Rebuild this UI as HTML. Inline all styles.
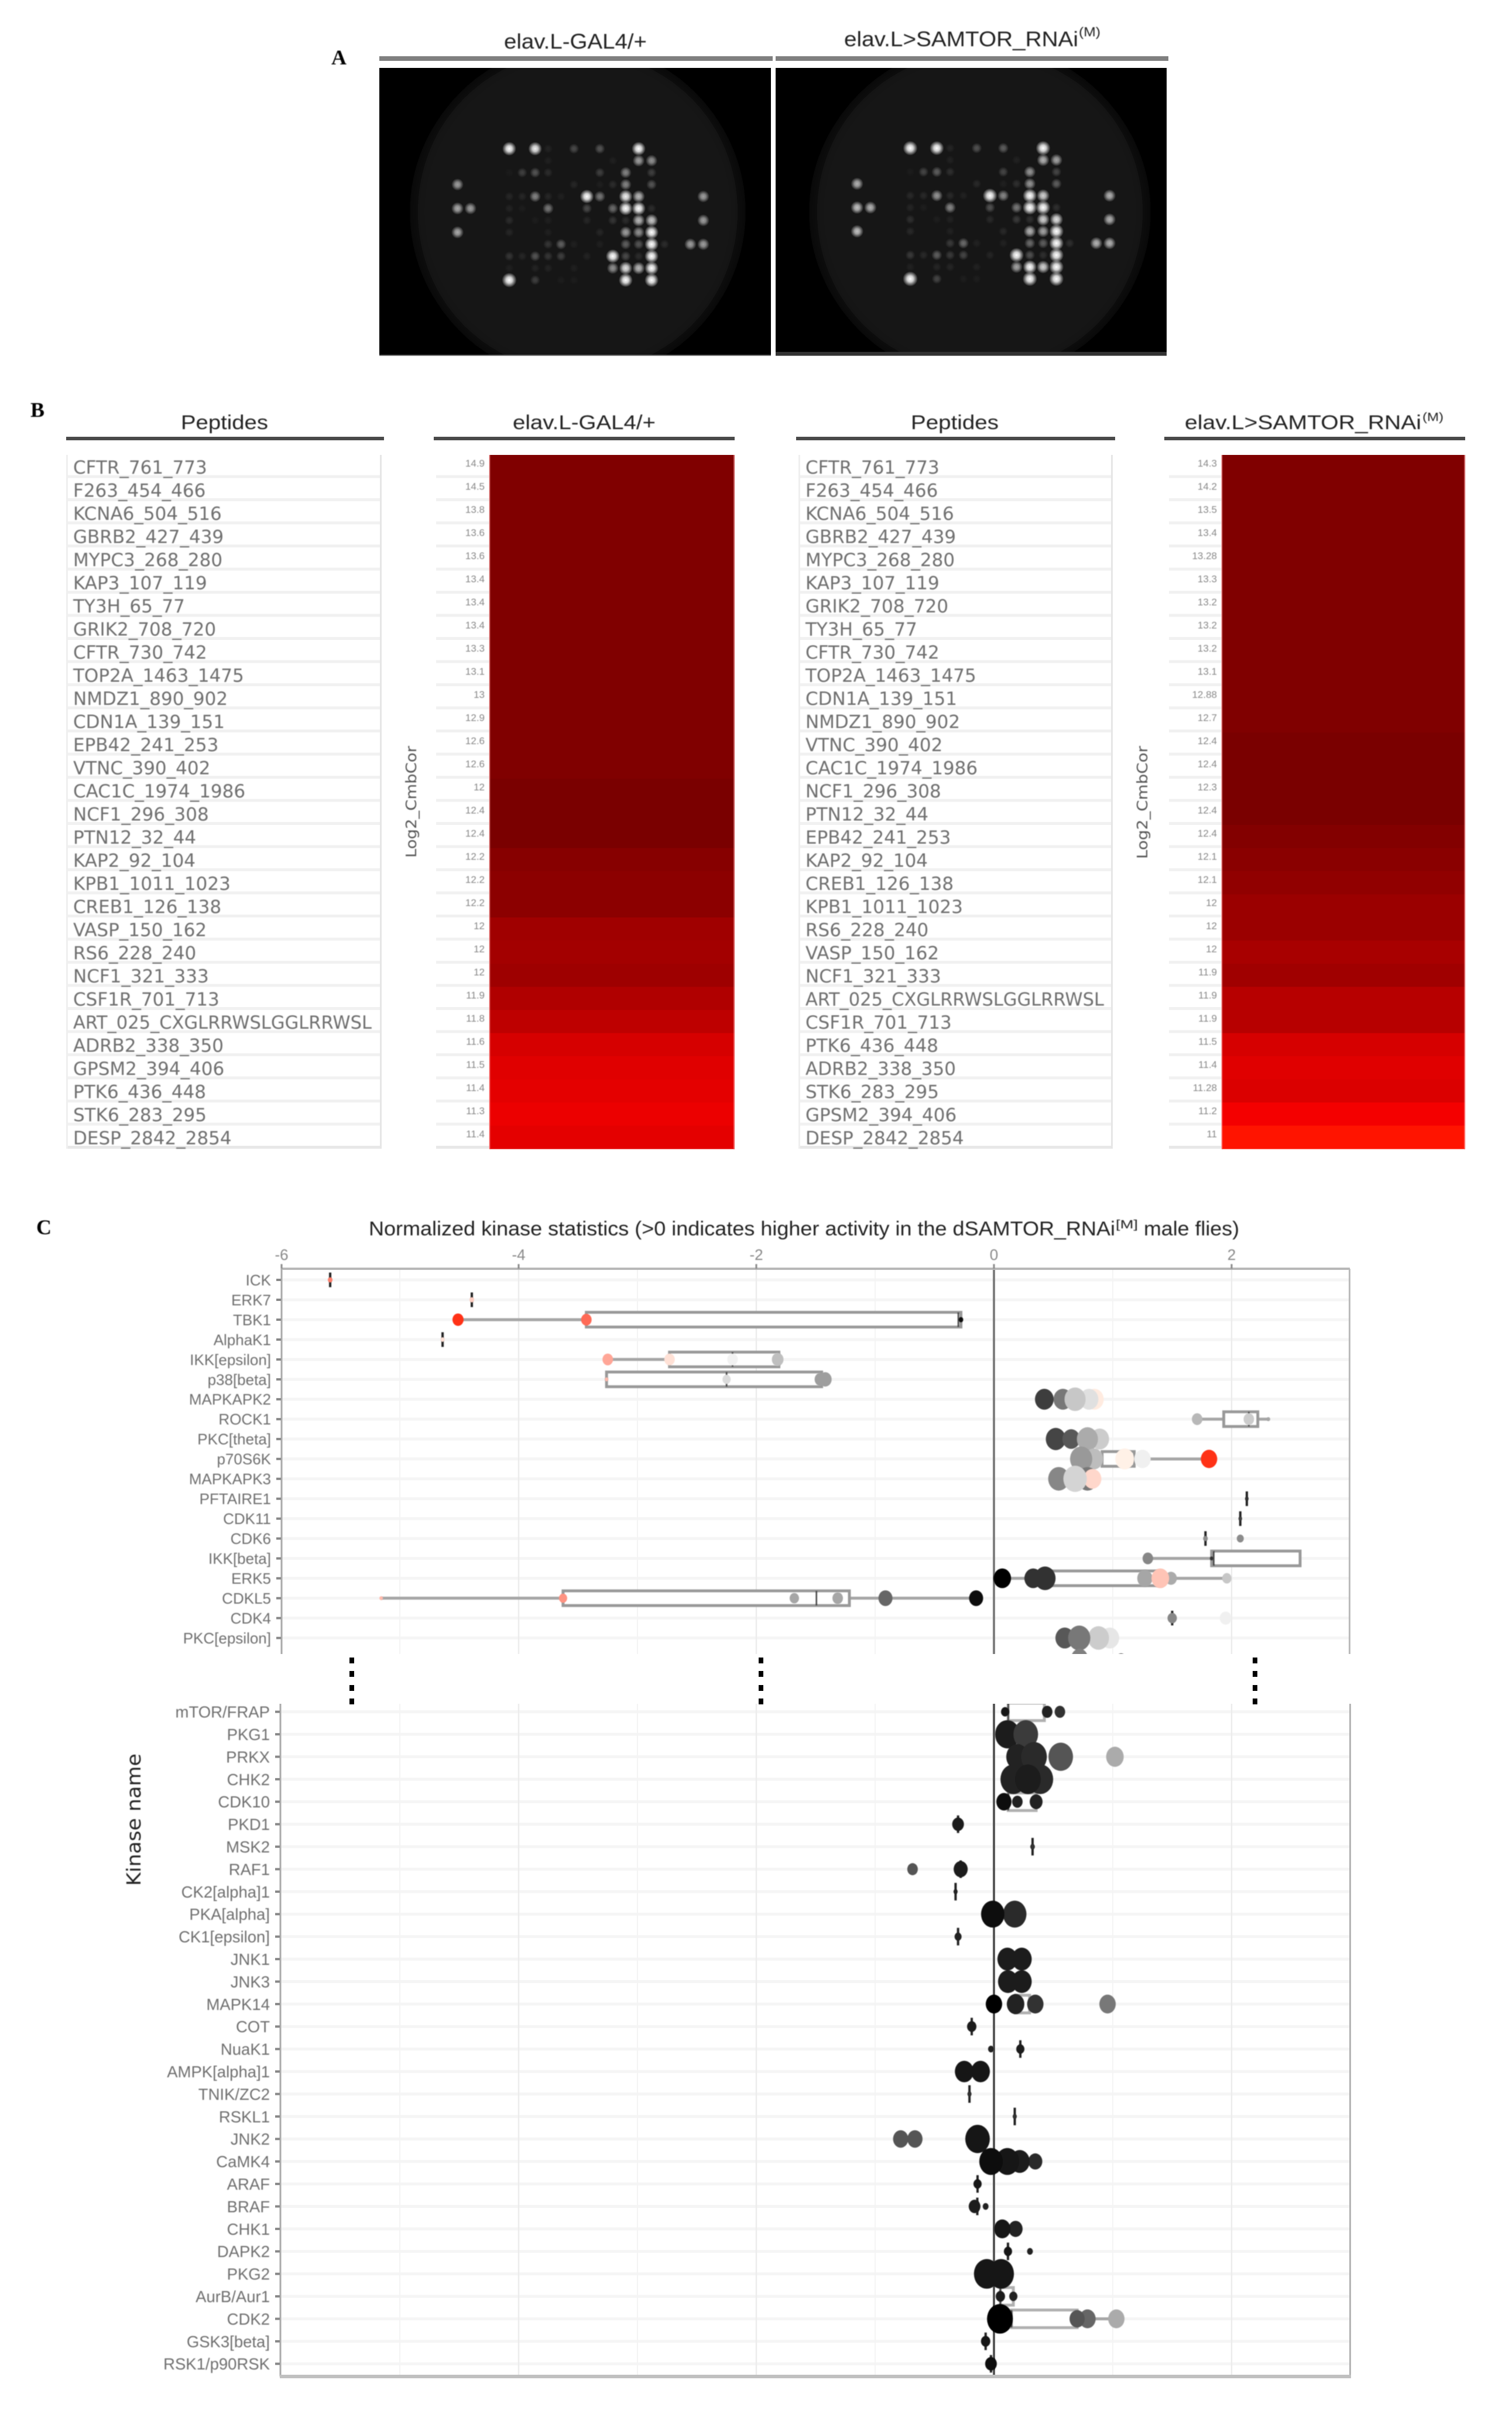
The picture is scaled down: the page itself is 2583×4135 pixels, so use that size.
<!DOCTYPE html>
<html lang="en">
<head>
<meta charset="utf-8">
<title>Kinase activity figure</title>
<style>
html,body{margin:0;padding:0;background:#fff;}
svg{display:block;}
text{font-family:"Liberation Sans",sans-serif;}
</style>
</head>
<body>
<svg id="figure" xmlns="http://www.w3.org/2000/svg" width="2583" height="4135" viewBox="0 0 2583 4135">
<defs>
<filter id="soft" x="-5%" y="-5%" width="110%" height="110%"><feGaussianBlur stdDeviation="0.9"/></filter>
<filter id="softer" x="-5%" y="-5%" width="110%" height="110%"><feGaussianBlur stdDeviation="1.3"/></filter>
<filter id="halo" x="-10%" y="-10%" width="120%" height="120%"><feGaussianBlur stdDeviation="10"/></filter>
<radialGradient id="spot"><stop offset="0" stop-color="#fff"/><stop offset="0.4" stop-color="#fff" stop-opacity="0.8"/><stop offset="1" stop-color="#fff" stop-opacity="0"/></radialGradient>
<clipPath id="clip-a-left"><rect x="648" y="116" width="669" height="492"/></clipPath>
<clipPath id="clip-a-right"><rect x="1325" y="116" width="668" height="492"/></clipPath>
<clipPath id="clip-top"><rect x="481" y="2167" width="1825" height="658"/></clipPath>
<clipPath id="clip-bottom"><rect x="479" y="2910" width="1828" height="1149"/></clipPath>
</defs>

<rect x="0" y="0" width="2583" height="4135" fill="#fff"/>

<!-- Panel letters -->
<g font-family="Liberation Serif" font-weight="bold" font-size="36" fill="#000" filter="url(#soft)">
<text x="566" y="110" style="font-family:'Liberation Serif',serif">A</text>
<text x="52" y="712" style="font-family:'Liberation Serif',serif">B</text>
<text x="62" y="2108" style="font-family:'Liberation Serif',serif">C</text>
</g>

<!-- Panel A headers -->
<g filter="url(#soft)" fill="#222" font-size="36">
<text x="861" y="83" textLength="244" lengthAdjust="spacingAndGlyphs">elav.L-GAL4/+</text>
<text x="1442" y="79" textLength="400" lengthAdjust="spacingAndGlyphs">elav.L&gt;SAMTOR_RNAi</text>
<text x="1843" y="62" textLength="37" lengthAdjust="spacingAndGlyphs" font-size="22">(M)</text>
</g>
<rect x="648" y="96" width="672" height="8" fill="#808080"/>
<rect x="1325" y="96" width="671" height="8" fill="#808080"/>

<g id="panel-a"></g>

<!-- Panel B headers -->
<g filter="url(#soft)" fill="#222" font-size="34">
<text x="309" y="733" textLength="149" lengthAdjust="spacingAndGlyphs">Peptides</text>
<text x="876" y="733" textLength="244" lengthAdjust="spacingAndGlyphs">elav.L-GAL4/+</text>
<text x="1556" y="733" textLength="150" lengthAdjust="spacingAndGlyphs">Peptides</text>
<text x="2024" y="733" textLength="404" lengthAdjust="spacingAndGlyphs">elav.L&gt;SAMTOR_RNAi</text>
<text x="2430" y="719" textLength="36" lengthAdjust="spacingAndGlyphs" font-size="20">(M)</text>
</g>
<g fill="#4a4a4a">
<rect x="113" y="746" width="543" height="6"/>
<rect x="741" y="746" width="514" height="6"/>
<rect x="1360" y="746" width="545" height="6"/>
<rect x="1989" y="746" width="514" height="6"/>
</g>
<g id="panel-b"></g>
<g filter="url(#soft)" fill="#555" font-family="DejaVu Sans">
<text transform="translate(711,1465) rotate(-90)" font-size="25" textLength="191" lengthAdjust="spacingAndGlyphs" style="font-family:'DejaVu Sans',sans-serif">Log2_CmbCor</text>
<text transform="translate(1960,1467) rotate(-90)" font-size="25" textLength="193" lengthAdjust="spacingAndGlyphs" style="font-family:'DejaVu Sans',sans-serif">Log2_CmbCor</text>
</g>

<!-- Panel C -->
<g filter="url(#soft)" fill="#222" font-size="34">
<text x="630" y="2110" textLength="1275" lengthAdjust="spacingAndGlyphs">Normalized kinase statistics (&gt;0 indicates higher activity in the dSAMTOR_RNAi</text>
<text x="1906" y="2098" textLength="38" lengthAdjust="spacingAndGlyphs" font-size="20">[M]</text>
<text x="1954" y="2110" textLength="163" lengthAdjust="spacingAndGlyphs">male flies)</text>
</g>
<g id="panel-c"></g>
<text transform="translate(240,3221) rotate(-90)" font-size="33" textLength="226" lengthAdjust="spacingAndGlyphs" fill="#222" filter="url(#soft)" style="font-family:'DejaVu Sans',sans-serif">Kinase name</text>
</svg>

<script>
// ---- Panel A: array spots by printed row (column index and brightness) ----
const spotColumns = [
  [0,2,3,5,7,10],
  [3,8,10,11],
  [0,1,2,3,7,9,11],
  [-4,5,7,8,9,11],
  [0,1,2,3,4,6,7,9,10,15],
  [-4,-3,0,1,3,6,8,9,10,11],
  [0,2,3,6,8,9,10,11,15],
  [-4,0,3,7,9,10,11],
  [3,4,5,7,9,10,11,12,14,15],
  [0,1,2,3,4,6,8,9,10,11],
  [0,2,3,5,8,9,10,11],
  [0,2,4,5,9,11]
];
const spotLevels = [
  [1,0.95,0.1,0.3,0.35,1],
  [0.08,0.08,0.65,0.6],
  [0.05,0.25,0.35,0.15,0.25,0.55,0.25],
  [0.65,0.12,0.07,0.15,0.55,0.35],
  [0.12,0.12,0.55,0.12,0.08,1,0.5,0.95,0.75,0.65],
  [0.7,0.65,0.1,0.06,0.5,0.3,0.45,1,1,0.15],
  [0.15,0.06,0.08,0.12,0.2,0.15,0.75,0.8,0.65],
  [0.7,0.12,0.08,0.12,0.65,0.6,1],
  [0.2,0.4,0.08,0.08,0.4,0.35,1,0.15,0.65,0.65],
  [0.2,0.12,0.35,0.2,0.25,0.1,1,0.3,0.15,1],
  [0.08,0.1,0.1,0.08,0.6,0.9,0.75,1],
  [1.15,0.25,0.06,0.06,1,1]
];

// ---- Panel B: peptides and heatmap values ----
const peptidesLeft = ["CFTR_761_773","F263_454_466","KCNA6_504_516","GBRB2_427_439","MYPC3_268_280","KAP3_107_119","TY3H_65_77","GRIK2_708_720","CFTR_730_742","TOP2A_1463_1475","NMDZ1_890_902","CDN1A_139_151","EPB42_241_253","VTNC_390_402","CAC1C_1974_1986","NCF1_296_308","PTN12_32_44","KAP2_92_104","KPB1_1011_1023","CREB1_126_138","VASP_150_162","RS6_228_240","NCF1_321_333","CSF1R_701_713","ART_025_CXGLRRWSLGGLRRWSL","ADRB2_338_350","GPSM2_394_406","PTK6_436_448","STK6_283_295","DESP_2842_2854"];
const peptidesRight = ["CFTR_761_773","F263_454_466","KCNA6_504_516","GBRB2_427_439","MYPC3_268_280","KAP3_107_119","GRIK2_708_720","TY3H_65_77","CFTR_730_742","TOP2A_1463_1475","CDN1A_139_151","NMDZ1_890_902","VTNC_390_402","CAC1C_1974_1986","NCF1_296_308","PTN12_32_44","EPB42_241_253","KAP2_92_104","CREB1_126_138","KPB1_1011_1023","RS6_228_240","VASP_150_162","NCF1_321_333","ART_025_CXGLRRWSLGGLRRWSL","CSF1R_701_713","PTK6_436_448","ADRB2_338_350","STK6_283_295","GPSM2_394_406","DESP_2842_2854"];
const heatValuesLeft = [14.9,14.5,13.8,13.6,13.6,13.4,13.4,13.4,13.3,13.1,13,12.9,12.6,12.6,12.5,12.4,12.4,12.25,12.2,12.2,12,11.98,12.02,11.9,11.8,11.6,11.5,11.4,11.3,11.4];
const heatLabelsLeft = ["14.9","14.5","13.8","13.6","13.6","13.4","13.4","13.4","13.3","13.1","13","12.9","12.6","12.6","12","12.4","12.4","12.2","12.2","12.2","12","12","12","11.9","11.8","11.6","11.5","11.4","11.3","11.4"];
const heatValuesRight = [14.3,14.2,13.5,13.4,13.28,13.3,13.2,13.2,13.2,13.1,12.88,12.7,12.4,12.4,12.4,12.4,12.3,12.22,12.15,12.05,12.05,11.95,12,11.85,11.85,11.6,11.5,11.55,11.2,11];
const heatLabelsRight = ["14.3","14.2","13.5","13.4","13.28","13.3","13.2","13.2","13.2","13.1","12.88","12.7","12.4","12.4","12.3","12.4","12.4","12.1","12.1","12","12","12","11.9","11.9","11.9","11.5","11.4","11.28","11.2","11"];
const heatStopValues = [11,11.2,11.4,11.5,11.6,11.8,11.9,12,12.2,12.4,12.5,12.6];
const heatStopReds = [255,244,228,224,214,190,176,160,140,122,122,128];

// ---- Panel C: kinase rows ----
const topKinases = ["ICK","ERK7","TBK1","AlphaK1","IKK[epsilon]","p38[beta]","MAPKAPK2","ROCK1","PKC[theta]","p70S6K","MAPKAPK3","PFTAIRE1","CDK11","CDK6","IKK[beta]","ERK5","CDKL5","CDK4","PKC[epsilon]"];
const bottomKinases = ["mTOR/FRAP","PKG1","PRKX","CHK2","CDK10","PKD1","MSK2","RAF1","CK2[alpha]1","PKA[alpha]","CK1[epsilon]","JNK1","JNK3","MAPK14","COT","NuaK1","AMPK[alpha]1","TNIK/ZC2","RSKL1","JNK2","CaMK4","ARAF","BRAF","CHK1","DAPK2","PKG2","AurB/Aur1","CDK2","GSK3[beta]","RSK1/p90RSK"];
const xTickValues = [-6,-4,-2,0,2];
const xGridValues = [-5,-3,-1,1];

// Box statistics by row; null means no visible box
const topBoxQ1 = [-5.586,-4.394,-3.43,-4.64,-2.73,-3.26,null,1.934,null,0.91,null,2.128,2.073,1.78,1.832,0.458,-3.626,1.5,null];
const topBoxMedian = [-5.586,-4.394,-0.3,-4.64,-2.2,-2.25,null,2.145,null,1.1,null,2.128,2.073,1.78,1.85,0.458,-1.494,1.5,null];
const topBoxQ3 = [-5.586,-4.394,-0.278,-4.64,-1.81,-1.45,null,2.22,null,1.18,null,2.128,2.073,1.78,2.576,1.41,-1.217,1.5,null];
const topWhiskerLow = [null,null,-4.51,null,-3.25,null,null,1.71,null,null,null,null,null,null,1.295,0.07,-5.157,null,null];
const topWhiskerHigh = [null,null,null,null,null,null,null,2.31,null,1.81,null,null,null,null,null,1.96,-0.15,null,null];

// Rows follow topKinases; the final entry belongs to the row cut off by the axis break
const topPointValues = [[-5.586],[-4.394],[-4.51,-3.43,-0.278],[-4.64],[-3.25,-2.73,-2.2,-1.82],[-3.26,-2.25,-1.42,-1.46],[0.845,0.8,0.58,0.424,0.683],[1.71,2.145,2.31],[0.52,0.65,0.89,0.787],[1.25,1.1,0.84,0.734,1.81],[0.545,0.787,0.83,0.683],[2.128],[2.073],[1.78,2.073],[1.295,1.832],[0.07,0.33,0.43,1.49,1.27,1.4,1.96],[-5.157,-3.626,-1.68,-1.315,-0.913,-0.15],[1.5,1.95],[0.975,0.88,0.596,0.718],[0.72,1.07]];
const topPointSizes = [[2],[2],[4.75,4.5,2],[1.75],[4.5,4.5,4.5,5],[1.5,3.5,5.5,5],[8,8,8,8,9],[4.5,4.5,1.5],[8.5,7.5,8,9],[7,8,8,9.5,7],[9,9,7.5,10],[1.5],[1.5],[2,3],[4.5,1.5],[7.5,7.5,9,5,6.5,7.5,4],[1.5,3.5,4,4.5,6,6],[4,5],[8,9,8,9.5],[7,3.5]];
const topPointScores = [[1.6],[1.2],[2,1.7,0.05],[1.1],[1.4,1.1,0.95,0.75],[1.3,0.86,0.62,0.62],[1.05,0.88,0.47,0.24,0.78],[0.72,0.8,0.65],[0.27,0.35,0.8,0.67],[0.94,1.02,0.74,0.6,2],[0.53,0.47,1.15,0.83],[0.2],[0.25],[0.55,0.55],[0.53,0.2],[0.02,0.2,0.2,0.67,0.65,1.25,0.78],[1.3,1.5,0.65,0.65,0.4,0.05],[0.53,0.94],[0.9,0.8,0.35,0.47],[0.5,0.5]];

const bottomBoxQ1 = [0.12,null,null,null,0.12,-0.302,0.325,-0.28,-0.323,null,-0.302,null,null,0.182,-0.187,0.222,null,-0.206,0.175,null,null,-0.138,-0.14,null,0.118,null,0.054,0.148,-0.07,-0.025];
const bottomBoxMedian = [0.12,null,null,null,0.12,-0.302,0.325,-0.28,-0.323,null,-0.302,null,null,0.182,-0.187,0.222,null,-0.206,0.175,null,null,-0.138,-0.14,null,0.118,null,0.054,0.148,-0.07,-0.025];
const bottomBoxQ3 = [0.424,null,null,null,0.355,-0.302,0.325,-0.28,-0.323,null,-0.302,null,null,0.3,-0.187,0.222,null,-0.206,0.175,null,null,-0.138,-0.14,null,0.118,null,0.163,0.7,-0.07,-0.025];
const bottomWhiskerHigh = [null,null,null,null,null,null,null,null,null,null,null,null,null,null,null,null,null,null,null,null,null,null,null,null,null,null,null,1.03,null,null];

const bottomPointValues = [[0.094,0.448,0.555],[0.113,0.268],[0.562,0.197,0.337,1.018],[0.163,0.39,0.286],[0.084,0.197,0.355],[-0.302],[0.325],[-0.685,-0.28],[-0.323],[0.175,-0.01],[-0.302],[0.113,0.234],[0.118,0.234],[0,0.182,0.348,0.956],[-0.187],[-0.025,0.222],[-0.25,-0.113],[-0.206],[0.175],[-0.785,-0.665,-0.138],[0.348,0.217,0.113,-0.025],[-0.138],[-0.163,-0.07],[0.182,0.07],[0.118,0.303],[-0.06,0.06],[0.054,0.163],[0.787,0.7,1.03,0.05],[-0.07],[-0.025]];
const bottomPointSizes = [[3.5,4.5,4.5],[10.5,10.5],[10.5,9.5,11,7.5],[11,11,11],[6.5,4.5,5.5],[5],[2],[4.5,6],[1.75],[10,10],[3],[8.5,8.5],[8.5,8.5],[7,7.5,7,7],[4],[2.5,3.5],[8,8],[1.75],[1.75],[6.5,6.5,10.5],[6,8.5,10,10],[3.5],[5,2.5],[6,7],[3.5,2.5],[11,11],[4,3.5],[7,6.5,7,11],[4],[5]];
const bottomPointScores = [[0.07,0.13,0.2],[0.1,0.23],[0.33,0.13,0.16,0.67],[0.13,0.16,0.11],[0.05,0.13,0.13],[0.11],[0.2],[0.33,0.11],[0.13],[0.16,0.03],[0.13],[0.11,0.11],[0.11,0.11],[0,0.13,0.2,0.47],[0.1],[0.13,0.1],[0.07,0.07],[0.2],[0.2],[0.33,0.33,0.07],[0.16,0.1,0.07,0.03],[0.07],[0.11,0.13],[0.13,0.07],[0.07,0.13],[0.07,0.07],[0.1,0.13],[0.4,0.33,0.67,0],[0.07],[0.04]];

// ---- Helpers and axis functions ----
const NS = "http://www.w3.org/2000/svg";
function make(parent, tag, attrs, txt) {
  const el = document.createElementNS(NS, tag);
  for (const k in attrs) el.setAttribute(k, attrs[k]);
  if (txt !== undefined) el.textContent = txt;
  parent.appendChild(el);
  return el;
}
const xScale = v => 1698 + 203 * v;
const yTop = i => 2186 + 33.98 * i;
const yBottom = i => 2923.7 + 38.4 * i;
const sizeScale = n => n * 2;
function scoreColor(s) {
  if (s <= 1) { const g = Math.round(s * 255); return `rgb(${g},${g},${g})`; }
  const t = Math.min(1, s - 1);
  return `rgb(255,${Math.round(245 - 197 * t)},${Math.round(235 - 211 * t)})`;
}
function heatColor(v) {
  const n = heatStopValues.length;
  if (v >= heatStopValues[n - 1]) return `rgb(${heatStopReds[n - 1]},0,0)`;
  if (v <= heatStopValues[0]) return `rgb(255,20,0)`;
  for (let i = 1; i < n; i++) {
    if (v <= heatStopValues[i]) {
      const t = (v - heatStopValues[i - 1]) / (heatStopValues[i] - heatStopValues[i - 1]);
      return `rgb(${Math.round(heatStopReds[i - 1] + t * (heatStopReds[i] - heatStopReds[i - 1]))},0,0)`;
    }
  }
}

// ---- Draw panel A ----
function drawArray(name, x0, x1, clipId, cx, rx, col0, colStep, row0, rowStep, gain) {
  const panel = document.getElementById("panel-a");
  const g = make(panel, "g", {"clip-path": `url(#${clipId})`});
  
  
  const bg = make(g, "rect", {x: x0, y: 116, width: x1 - x0, height: 492, fill: "#000"});
  
  
  const disc = make(g, "ellipse", {cx: cx, cy: 362, rx: rx, ry: 281, fill: "#141414", filter: "url(#halo)"});
  
  
  spotColumns.forEach((cols, r) => {
    cols.forEach((c, i) => {
      const level = Math.min(1.2, spotLevels[r][i] * gain);
      const s = make(g, "circle", {
        cx: col0 + c * colStep,
        cy: row0 + r * rowStep,
        r: 7.5 + 4.5 * level,
        fill: "url(#spot)",
        opacity: Math.min(1, Math.pow(level, 1.25))
      });
      
      
    });
  });
  const edge = make(g, "rect", {x: x0, y: 606, width: x1 - x0, height: 2, fill: "#777"});
  
  
}
drawArray("array-image-control", 648, 1317, "clip-a-left", 987, 280, 870, 22.1, 254, 20.4, 1);
drawArray("array-image-rnai", 1325, 1993, "clip-a-right", 1674, 285, 1555, 22.7, 253, 20.3, 1.12);
const strip = make(document.getElementById("panel-a"), "rect", {x: 1325, y: 601, width: 668, height: 6, fill: "#333"});



// ---- Draw panel B ----
const tableTop = 777;
const rowH = 39.5;
function drawTable(names, tx0, tx1, textX, hx0, hx1, lx0, values, labels, side) {
  const panel = document.getElementById("panel-b");
  const grp = make(panel, "g", {});
  
  
  names.forEach((n, i) => {
    const y = tableTop + i * rowH;
    const band = make(grp, "rect", {x: tx0, y: y + rowH - 5, width: tx1 - tx0, height: 5, fill: i === names.length - 1 ? "#e8e8e8" : "#f1f1f1"});
    
    
    const band2 = make(grp, "rect", {x: lx0, y: y + rowH - 5, width: hx0 - lx0, height: 5, fill: i === names.length - 1 ? "#e8e8e8" : "#f1f1f1"});
    
    
  });
  const l = make(grp, "rect", {x: tx0, y: tableTop, width: 3, height: 30 * rowH, fill: "#efefef"});
  
  
  const r = make(grp, "rect", {x: tx1 - 3, y: tableTop, width: 3, height: 30 * rowH, fill: "#e6e6e6"});
  
  
  const soft = make(grp, "g", {filter: "url(#soft)"});
  
  
  names.forEach((n, i) => {
    const t = make(soft, "text", {x: textX, y: tableTop + i * rowH + 32, "font-size": 31, fill: "#707070", style: "font-family:'DejaVu Sans',sans-serif"}, n);
    if (n.length > 20) {
      t.setAttribute('textLength', '510');
      t.setAttribute('lengthAdjust', 'spacingAndGlyphs');
    }
    
    
  });
  values.forEach((v, i) => {
    const c = make(grp, "rect", {x: hx0, y: tableTop + i * rowH, width: hx1 - hx0, height: rowH + 0.6, fill: heatColor(v)});
    
    
  });
  const e1 = make(grp, "rect", {x: hx0 - 1, y: tableTop, width: 2.5, height: 30 * rowH, fill: "#ffaaaa", opacity: 0.55});
  
  
  const e2 = make(grp, "rect", {x: hx1 - 2, y: tableTop, width: 2.5, height: 30 * rowH, fill: "#ffaaaa", opacity: 0.55});
  
  
  const lg = make(grp, "g", {filter: "url(#soft)"});
  
  
  labels.forEach((s, i) => {
    const t = make(lg, "text", {x: hx0 - 8, y: tableTop + i * rowH + 20, "font-size": 17, fill: "#888", "text-anchor": "end"}, s);
    
    
  });
}
drawTable(peptidesLeft, 113, 652, 125, 836, 1255, 745, heatValuesLeft, heatLabelsLeft, "left");
drawTable(peptidesRight, 1364, 1901, 1376, 2087, 2503, 1997, heatValuesRight, heatLabelsRight, "right");

// ---- Draw panel C ----
const panelC = document.getElementById("panel-c");
const TOP_Y0 = 2167, TOP_Y1 = 2825, BOT_Y0 = 2910, BOT_Y1 = 4059, X_L = 481, X_R = 2306;

function drawGrid(y0, y1, rows, yFn, zeroColor, side) {
  const g = make(panelC, "g", {});
  
  
  rows.forEach((_, i) => {
    const b = make(g, "rect", {x: X_L, y: yFn(i) - 2.5, width: X_R - X_L, height: 5, fill: "#f5f5f5"});
    
    
  });
  xGridValues.forEach(v => {
    const l = make(g, "rect", {x: xScale(v) - 1, y: y0, width: 2, height: y1 - y0, fill: "#f4f4f4"});
    
    
  });
  xTickValues.forEach(v => {
    if (v === 0 || v === -6) return;
    const l = make(g, "rect", {x: xScale(v) - 1.2, y: y0, width: 2.4, height: y1 - y0, fill: "#ececec"});
    
    
  });
}
function drawBoxes(rows, q1s, meds, q3s, lows, highs, yFn, boxH, clip, boxStroke, side) {
  const g = make(panelC, "g", {"clip-path": `url(#${clip})`, filter: "url(#soft)"});
  
  
  rows.forEach((_, i) => {
    const y = yFn(i);
    const q1 = q1s[i], q3 = q3s[i];
    if (lows && lows[i] !== null && q1 !== null) {
      const w = make(g, "line", {x1: xScale(lows[i]), x2: xScale(q1), y1: y, y2: y, stroke: "#a6a6a6", "stroke-width": 5});
      
      
    }
    if (highs[i] !== null && q3 !== null) {
      const w = make(g, "line", {x1: xScale(q3), x2: xScale(highs[i]), y1: y, y2: y, stroke: "#a6a6a6", "stroke-width": 5});
      
      
    }
    if (q1 === null) return;
    if (q3 - q1 < 0.01) {
      const t = make(g, "line", {x1: xScale(q1), x2: xScale(q1), y1: y - boxH / 2, y2: y + boxH / 2, stroke: "#222", "stroke-width": 4});
      
      
      return;
    }
    const b = make(g, "rect", {x: xScale(q1), y: y - boxH / 2, width: xScale(q3) - xScale(q1), height: boxH, fill: "#fff", stroke: boxStroke, "stroke-width": 5});
    
    
    const m = make(g, "line", {x1: xScale(meds[i]), x2: xScale(meds[i]), y1: y - boxH / 2, y2: y + boxH / 2, stroke: "#444", "stroke-width": 3});
    
    
  });
}
function drawPoints(values, sizes, scores, yFn, clip, stretch, side) {
  const g = make(panelC, "g", {"clip-path": `url(#${clip})`, filter: "url(#soft)"});
  
  
  values.forEach((row, i) => {
    row.forEach((v, j) => {
      const r = sizeScale(sizes[i][j]);
      const c = make(g, "ellipse", {cx: xScale(v), cy: yFn(i), rx: r, ry: r * stretch, fill: scoreColor(scores[i][j])});
      
      
    });
  });
}
function drawYAxis(rows, yFn, y0, y1, axisX, fontSize, labelX, side) {
  const g = make(panelC, "g", {});
  
  
  const a = make(g, "rect", {x: axisX - 1.5, y: y0, width: 3, height: y1 - y0, fill: "#aaa"});
  
  
  const lg = make(g, "g", {filter: "url(#soft)"});
  
  
  rows.forEach((name, i) => {
    const tick = make(g, "rect", {x: axisX - 9, y: yFn(i) - 2, width: 8, height: 4, fill: "#888"});
    
    
    const t = make(lg, "text", {x: labelX, y: yFn(i) + fontSize * 0.36, "font-size": fontSize, fill: "#707070", "text-anchor": "end"}, name);
    
    
  });
}

drawGrid(TOP_Y0, TOP_Y1, topKinases, yTop, "#888", "top");
drawGrid(BOT_Y0, BOT_Y1, bottomKinases, yBottom, "#555", "bottom");

const zeroTop = make(panelC, "rect", {x: xScale(0) - 2, y: TOP_Y0, width: 4, height: TOP_Y1 - TOP_Y0, fill: "#808080"});


const zeroBottom = make(panelC, "rect", {x: xScale(0) - 2, y: BOT_Y0, width: 4, height: BOT_Y1 - BOT_Y0, fill: "#5a5a5a"});



drawBoxes(topKinases, topBoxQ1, topBoxMedian, topBoxQ3, topWhiskerLow, topWhiskerHigh, yTop, 25, "clip-top", "#999", "top");
drawBoxes(bottomKinases, bottomBoxQ1, bottomBoxMedian, bottomBoxQ3, null, bottomWhiskerHigh, yBottom, 30, "clip-bottom", "#b0b0b0", "bottom");
drawPoints(topPointValues, topPointSizes, topPointScores, yTop, "clip-top", 1.12, "top");
drawPoints(bottomPointValues, bottomPointSizes, bottomPointScores, yBottom, "clip-bottom", 1.15, "bottom");

drawYAxis(topKinases, yTop, TOP_Y0, TOP_Y1, 481, 26, 463, "top");
drawYAxis(bottomKinases, yBottom, BOT_Y0, BOT_Y1, 479, 27.5, 461, "bottom");

// Frame lines
const frameTop = make(panelC, "rect", {x: 481, y: TOP_Y0 - 2, width: X_R - 481, height: 4, fill: "#b8b8b8"});


const frameRightTop = make(panelC, "rect", {x: X_R - 2, y: TOP_Y0, width: 3, height: TOP_Y1 - TOP_Y0, fill: "#bbb"});


const frameRightBottom = make(panelC, "rect", {x: X_R - 1, y: BOT_Y0, width: 3, height: BOT_Y1 - BOT_Y0, fill: "#b4b4b4"});


const frameBottom = make(panelC, "rect", {x: 478, y: BOT_Y1 - 3, width: X_R - 476, height: 6, fill: "#c0c0c0"});



// X axis ticks
const xTicks = make(panelC, "g", {filter: "url(#soft)"});


xTickValues.forEach(v => {
  const x = v === -6 ? 481 : xScale(v);
  const t = make(xTicks, "rect", {x: x - 1.5, y: TOP_Y0 - 8, width: 3, height: 8, fill: "#888"});
  
  
  const l = make(xTicks, "text", {x: x, y: 2152, "font-size": 26, fill: "#888", "text-anchor": "middle"}, String(v));
  
  
});

// Break dots between the two chart halves
const breakDotColumns = [601, 1300, 2144];
const breakDotRows = [2836, 2859, 2883, 2906];
const breaks = make(panelC, "g", {});


breakDotColumns.forEach(x => breakDotRows.forEach(y => {
  const d = make(breaks, "rect", {x: x - 4, y: y - 5, width: 8, height: 10, fill: "#000"});
  
  
}));
</script>
</body>
</html>
